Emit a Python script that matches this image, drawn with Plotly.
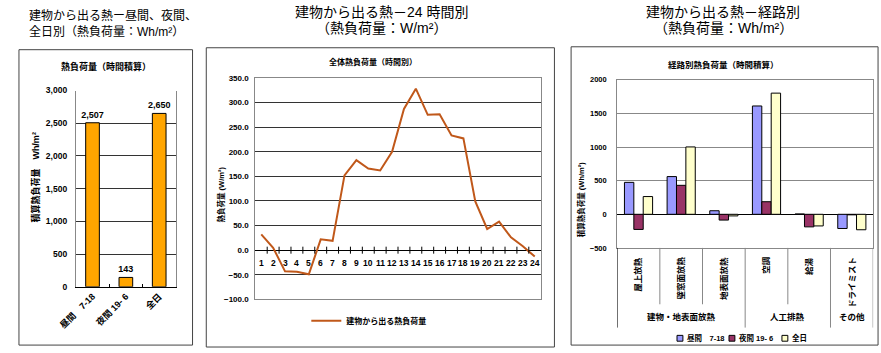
import plotly.graph_objects as go

W, H = 881, 353
JP = "Liberation Sans, Noto Sans CJK JP, sans-serif"

# ---------------- data ----------------
period_labels = ["昼間　7-18", "夜間 19- 6", "全日"]
period_values = [2507, 143, 2650]

hours = list(range(1, 25))
hourly_load = [32, 5, -43, -44, -49, 22, 19, 152, 183, 166, 162, 200,
               287, 328, 275, 276, 233, 227, 99, 43, 58, 26, 8, -13]

route_categories = ["屋上放熱", "壁窓面放熱", "地表面放熱", "空調", "給湯", "ドライミスト"]
route_groups = ["建物・地表面放熱", "人工排熱", "その他"]
route_group_sizes = [3, 2, 1]
route_day = [475, 561, 53, 1611, 5, -211]
route_night = [-225, 431, -86, 187, -187, -8]
route_all = [264, 1002, -24, 1802, -173, -230]
route_series = ["昼間　7-18", "夜間 19- 6", "全日"]
route_colors = ["#9999FF", "#993366", "#FFFFCC"]


def px(x):
    return x / W


def py(y):
    return 1 - y / H


fig = go.Figure()

# ---------- panel 1 ----------
fig.add_trace(go.Bar(
    x=period_labels, y=period_values, xaxis="x", yaxis="y",
    marker=dict(color="#FFA500", line=dict(color="#000000", width=1)),
    width=0.41, offset=-0.205,
    text=[f"{v:,}" for v in period_values], textposition="outside",
    constraintext="none",
    textfont=dict(size=9, family=JP, color="#000", weight="bold"),
    cliponaxis=False, showlegend=False))

# ---------- panel 2 ----------
fig.add_trace(go.Scatter(
    x=hours, y=hourly_load, xaxis="x2", yaxis="y2", mode="lines",
    line=dict(color="#C0581A", width=2), name="建物から出る熱負荷量",
    legend="legend2"))
fig.add_trace(go.Scatter(
    x=[h + 0.5 for h in hours[:-1]], y=[0] * (len(hours) - 1),
    xaxis="x2", yaxis="y2", mode="markers",
    marker=dict(symbol="line-ns-open", size=5, color="#000",
                line=dict(color="#000", width=1)),
    showlegend=False, hoverinfo="skip"))

# ---------- panel 3 ----------
for name, vals, col, off in zip(route_series, [route_day, route_night, route_all],
                                route_colors, [-0.33, -0.11, 0.11]):
    fig.add_trace(go.Bar(
        x=route_categories, y=vals, xaxis="x3", yaxis="y3", name=name,
        marker=dict(color=col, line=dict(color="#000", width=1)),
        width=0.22, offset=off, showlegend=False))
fig.add_trace(go.Scatter(
    x=[i + 0.5 for i in range(len(route_categories) - 1)],
    y=[0] * (len(route_categories) - 1), xaxis="x3", yaxis="y3", mode="markers",
    marker=dict(symbol="line-ns-open", size=5, color="#000",
                line=dict(color="#000", width=1)),
    showlegend=False, hoverinfo="skip"))

tick_font = dict(size=8, family=JP, color="#000", weight="bold")

layout = dict(
    width=W, height=H, margin=dict(l=0, r=0, t=0, b=0),
    paper_bgcolor="white", plot_bgcolor="white",
    font=dict(family=JP, color="#000"),
    barmode="group",
    # panel 1
    xaxis=dict(domain=[px(60), px(162)], anchor="y", type="category",
               tickangle=-45, tickfont=dict(size=9, family=JP, color="#000", weight="bold"),
               showline=True, linecolor="#000", mirror=False,
               ticks="inside", tickson="boundaries", ticklen=3, tickcolor="#000",
               showgrid=False),
    yaxis=dict(domain=[py(290), py(88)], anchor="x", range=[0, 3000], dtick=500,
               tickformat=",", tickfont=dict(size=8.5, family=JP, color="#000", weight="bold"),
               ticklabelstandoff=6,
               showgrid=True, gridcolor="#333", gridwidth=1,
               showline=True, linecolor="#888", mirror=True, zeroline=False),
    # panel 2
    xaxis2=dict(domain=[px(243), px(534)], anchor="y2", range=[0.5, 24.5],
                showticklabels=False, showgrid=False, zeroline=False,
                showline=True, linecolor="#888", mirror=True),
    yaxis2=dict(domain=[py(303), py(75)], anchor="x2", range=[-100, 350], dtick=50,
                tickformat=".1f", tickfont=tick_font, ticklabelstandoff=4,
                showgrid=True, gridcolor="#333", gridwidth=1,
                zeroline=True, zerolinecolor="#000", zerolinewidth=1,
                showline=True, linecolor="#888", mirror=True),
    # panel 3
    xaxis3=dict(domain=[px(612), px(873)], anchor="y3", type="category",
                range=[-0.5, 5.5], showticklabels=False, showgrid=False,
                zeroline=False, showline=True, linecolor="#888", mirror=True),
    yaxis3=dict(domain=[py(250), py(77)], anchor="x3", range=[-500, 2000], dtick=500,
                tickfont=dict(size=7.5, family=JP, color="#000", weight="bold"),
                ticklabelstandoff=8,
                showgrid=True, gridcolor="#888", gridwidth=1,
                zeroline=True, zerolinecolor="#000", zerolinewidth=1,
                showline=True, linecolor="#888", mirror=True),
    legend2=dict(x=px(295), y=py(325), xanchor="left", yanchor="middle",
                 font=dict(size=8, family=JP, color="#000", weight="bold"),
                 bgcolor="rgba(0,0,0,0)", itemwidth=30),
)

shapes = []
box = dict(type="rect", xref="paper", yref="paper", line=dict(color="#444", width=1),
           fillcolor="rgba(0,0,0,0)", layer="below")
for x0, y0, x1, y1 in [(2, 46, 179, 350), (193, 44, 548, 352), (565, 43, 878, 350)]:
    b = dict(box)
    b.update(x0=px(x0), x1=px(x1), y0=py(y1), y1=py(y0))
    shapes.append(b)

# panel 3 category separators
group_edges = [-0.5]
acc = -0.5
for s in route_group_sizes:
    acc += s
    group_edges.append(acc)
for i in range(len(route_categories) + 1):
    pos = i - 0.5
    full = any(abs(pos - g) < 1e-9 for g in group_edges)
    shapes.append(dict(type="line", xref="x3", yref="paper", x0=pos, x1=pos,
                       y0=py(332 if full else 308), y1=py(250),
                       line=dict(color="#000" if i == 0 else "#888", width=1)))

ann = []


def text(x, y, s, size, bold=False, xanchor="center", yanchor="middle", angle=0,
         xref="paper", yref="paper"):
    ann.append(dict(x=x, y=y, xref=xref, yref=yref, text=f"<b>{s}</b>" if bold else s,
                    showarrow=False, xanchor=xanchor, yanchor=yanchor, textangle=angle,
                    font=dict(size=size, family=JP, color="#000")))


# panel 3 legend (compact, as in the reference)
leg_x = [673, 726, 780]
for lx, name, col in zip(leg_x, route_series, route_colors):
    shapes.append(dict(type="rect", xref="paper", yref="paper",
                       x0=px(lx), x1=px(lx + 6), y0=py(346), y1=py(340),
                       fillcolor=col, line=dict(color="#000", width=1)))
    text(px(lx + 8), py(343), name, 7.5, bold=True, xanchor="left")

layout["shapes"] = shapes

# main titles
text(px(10), py(11), "建物から出る熱ー昼間、夜間、", 12, xanchor="left")
text(px(10), py(28), "全日別（熱負荷量：Wh/m²）", 12, xanchor="left")
text(px(372), py(7), "建物から出る熱－24 時間別", 14)
text(px(372), py(24), "（熱負荷量：W/m²）", 14)
text(px(720), py(7), "建物から出る熱－経路別", 14)
text(px(720), py(24), "（熱負荷量：Wh/m²）", 14)

# chart titles
text(px(91), py(63), "熱負荷量（時間積算）", 9, bold=True)
text(px(363), py(59), "全体熱負荷量（時間別）", 8, bold=True)
text(px(720), py(62), "経路別熱負荷量（時間積算）", 8.5, bold=True)

# y-axis titles
text(px(19), py(177), "積算熱負荷量　Wh/m²", 9, bold=True, angle=-90)
text(px(208), py(195), "熱負荷量 (W/m²)", 7.5, bold=True, angle=-90)
text(px(575), py(200), "積算熱負荷量 (Wh/m²)", 7.5, bold=True, angle=-90)

# panel 2 hour labels along zero line
for h in hours:
    ann.append(dict(x=h, y=0, xref="x2", yref="y2", text=f"<b>{h}</b>", showarrow=False,
                    yshift=-13, font=dict(size=8.5, family=JP, color="#000")))

# panel 3 category labels
for c in route_categories:
    text(c, py(257), c, 8.5, bold=True, angle=-90, yanchor="top", xref="x3")
# group labels
start = 0
for g, s in zip(route_groups, route_group_sizes):
    text(start + (s - 1) / 2, py(321), g, 8.5, bold=True, xref="x3")
    start += s

layout["annotations"] = ann
fig.update_layout(**layout)
fig.write_html("out.html")
